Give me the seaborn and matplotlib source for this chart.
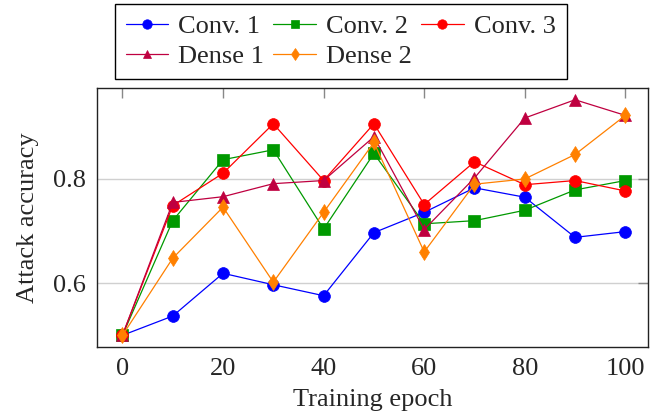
import numpy as np
import pandas as pd
import matplotlib
matplotlib.use("Agg")
import matplotlib.pyplot as plt
import seaborn as sns

# data
epochs = [0, 10, 20, 30, 40, 50, 60, 70, 80, 90, 100]
conv1 = [0.500, 0.537, 0.619, 0.597, 0.576, 0.697, 0.736, 0.783, 0.765, 0.688, 0.699]
conv2 = [0.500, 0.720, 0.837, 0.856, 0.704, 0.849, 0.714, 0.720, 0.740, 0.779, 0.797]
conv3 = [0.500, 0.749, 0.811, 0.906, 0.797, 0.906, 0.751, 0.833, 0.789, 0.797, 0.777]
dense1 = [0.500, 0.755, 0.766, 0.791, 0.797, 0.881, 0.703, 0.802, 0.917, 0.952, 0.922]
dense2 = [0.500, 0.648, 0.746, 0.602, 0.736, 0.870, 0.660, 0.790, 0.800, 0.847, 0.922]

series_names = ["Conv. 1", "Conv. 2", "Conv. 3", "Dense 1", "Dense 2"]
series_values = [conv1, conv2, conv3, dense1, dense2]
colors = ["#0000ff", "#009900", "#ff0000", "#bf0040", "#ff8000"]
markers = ["o", "s", "o", "^", "d"]
msizes = [8.5, 8, 8.5, 8, 8]

rows = []
for name, vals in zip(series_names, series_values):
    for e, v in zip(epochs, vals):
        rows.append({"Epoch": e, "Accuracy": v, "Model": name})
df = pd.DataFrame(rows)

sns.set_style("white")
plt.rcParams['font.family'] = ['Liberation Serif', 'DejaVu Serif']

fig = plt.figure(figsize=(6.58, 4.15), dpi=100)
ax = fig.add_axes([97.3 / 658, 1 - 347.3 / 415, (648 - 97.3) / 658, (347.3 - 88.3) / 415])

for name, col, mk, ms in zip(series_names, colors, markers, msizes):
    sub = df[df["Model"] == name]
    sns.lineplot(data=sub, x="Epoch", y="Accuracy", ax=ax, color=col, marker=mk,
                 markersize=ms, markeredgecolor=col, markeredgewidth=0.5,
                 linewidth=0.9, label=name, legend=False)

ax.set_xlim(-5, 104.5)
ax.set_ylim(0.477, 0.974)
ax.set_xticks([0, 20, 40, 60, 80, 100])
ax.set_yticks([0.6, 0.8])
ax.set_yticklabels(["0.6", "0.8"])
ax.yaxis.grid(True, color="#d0d0d0", linewidth=1)
ax.set_axisbelow(True)
ax.tick_params(axis="both", direction="in", length=7, width=1, color="#888888",
               top=True, right=True, labelsize=19, pad=8)
for sp in ax.spines.values():
    sp.set_color("#222222")
    sp.set_linewidth(1)

ax.set_xlabel("Training epoch", fontsize=19, labelpad=6)
ax.set_ylabel("Attack accuracy", fontsize=19, labelpad=10)

# legend fills column by column, so reorder to get row-wise layout
handles, labels = ax.get_legend_handles_labels()
order = [0, 3, 1, 4, 2]
leg = fig.legend([handles[i] for i in order], [labels[i] for i in order], ncol=3,
                 loc="upper left", bbox_to_anchor=(115 / 658, 1 - 4 / 415), fontsize=19,
                 frameon=True, fancybox=False, edgecolor="black", framealpha=1,
                 handlelength=1.6, handletextpad=0.4, columnspacing=0.35,
                 borderpad=0.4, labelspacing=0.25, markerscale=0.8, borderaxespad=0)
leg.get_frame().set_linewidth(1)

fig.savefig("out.png", dpi=100)
